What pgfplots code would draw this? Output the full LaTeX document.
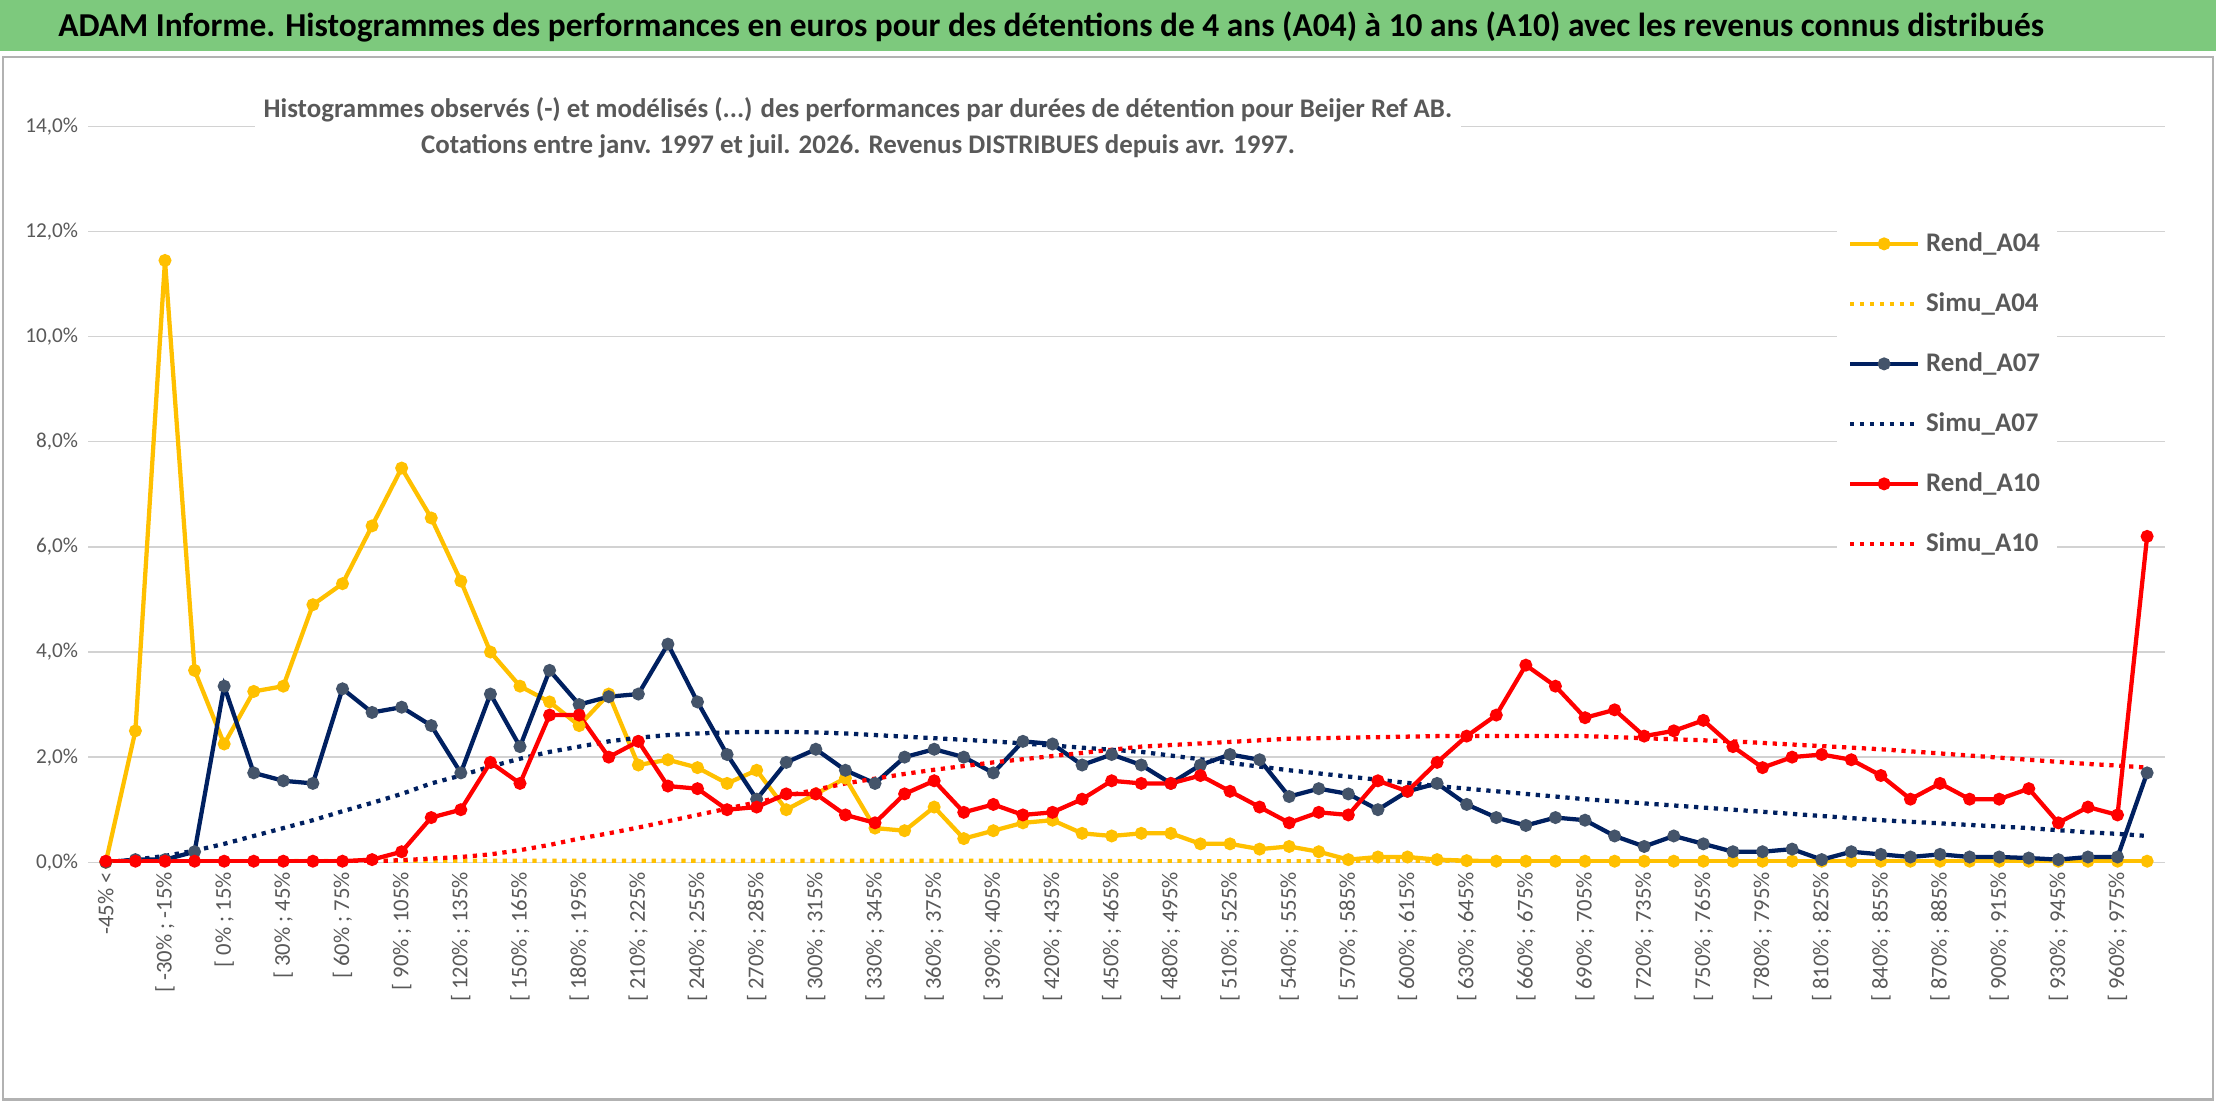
\documentclass[border=0pt]{standalone}
\usepackage{pgfplots}
\pgfplotsset{compat=1.18}
\usepackage{fontspec}
\setmainfont{Carlito}
\definecolor{ya}{HTML}{FFC000}
\definecolor{nv}{HTML}{002060}
\definecolor{nvm}{HTML}{44546A}
\definecolor{rd}{HTML}{FF0000}
\definecolor{gbar}{HTML}{7DC97D}
\definecolor{txt}{HTML}{595959}
\begin{document}
\begin{tikzpicture}
\fill[white] (0,0) rectangle (780bp,388bp);
\fill[gbar] (0,370bp) rectangle (780bp,388bp);
\draw[gray!60,line width=0.8bp] (1bp,1bp) rectangle (779bp,368bp);
\node[font=\bfseries\fontsize{11.8}{13}\selectfont] at (370bp,378.5bp) {ADAM Informe. Histogrammes des performances en euros pour des détentions de 4 ans (A04) à 10 ans (A10) avec les revenus connus distribués};
\begin{axis}[at={(31bp,84.5bp)},anchor=south west,scale only axis,
 width=731bp,height=259bp,xmin=-0.6,xmax=69.6,ymin=0,ymax=14,
 axis line style={draw=none},tick style={draw=none},
 ytick={0,2,...,14},ymajorgrids,grid style={gray!35,line width=0.5bp},
 /pgf/number format/assume math mode=true,
 yticklabel={\pgfmathprintnumber[fixed,fixed zerofill,precision=1,use comma]{\tick}\%},
 yticklabel style={font=\fontsize{7.5}{8}\selectfont,text=txt},
 xtick={0,2,...,68},
 xticklabels={{-45\% <},{[ -30\% ; -15\%},{[ 0\% ; 15\%},{[ 30\% ; 45\%},{[ 60\% ; 75\%},{[ 90\% ; 105\%},{[ 120\% ; 135\%},{[ 150\% ; 165\%},{[ 180\% ; 195\%},{[ 210\% ; 225\%},{[ 240\% ; 255\%},{[ 270\% ; 285\%},{[ 300\% ; 315\%},{[ 330\% ; 345\%},{[ 360\% ; 375\%},{[ 390\% ; 405\%},{[ 420\% ; 435\%},{[ 450\% ; 465\%},{[ 480\% ; 495\%},{[ 510\% ; 525\%},{[ 540\% ; 555\%},{[ 570\% ; 585\%},{[ 600\% ; 615\%},{[ 630\% ; 645\%},{[ 660\% ; 675\%},{[ 690\% ; 705\%},{[ 720\% ; 735\%},{[ 750\% ; 765\%},{[ 780\% ; 795\%},{[ 810\% ; 825\%},{[ 840\% ; 855\%},{[ 870\% ; 885\%},{[ 900\% ; 915\%},{[ 930\% ; 945\%},{[ 960\% ; 975\%}},
 xticklabel style={rotate=90,anchor=east,font=\fontsize{8}{8}\selectfont,text=txt},
 legend style={at={(0.895,0.88)},anchor=north,draw=none,fill=white,font=\fontsize{9.5}{10}\selectfont\bfseries,text=txt,row sep=9bp,inner sep=4bp},
 legend cell align=left,
 legend image code/.code={\draw[#1,mark repeat=2,mark phase=2] plot coordinates {(0bp,0bp) (12bp,0bp) (24bp,0bp)};},
]
\addplot[ya,line width=1.5bp,mark=*,mark size=1.5bp,mark options={fill=ya,draw=ya,solid}] coordinates {(0,0.0)(1,2.5)(2,11.45)(3,3.65)(4,2.25)(5,3.25)(6,3.35)(7,4.9)(8,5.3)(9,6.4)(10,7.5)(11,6.55)(12,5.35)(13,4.0)(14,3.35)(15,3.05)(16,2.6)(17,3.2)(18,1.85)(19,1.95)(20,1.8)(21,1.5)(22,1.75)(23,1.0)(24,1.3)(25,1.6)(26,0.65)(27,0.6)(28,1.05)(29,0.45)(30,0.6)(31,0.75)(32,0.8)(33,0.55)(34,0.5)(35,0.55)(36,0.55)(37,0.35)(38,0.35)(39,0.25)(40,0.3)(41,0.2)(42,0.05)(43,0.1)(44,0.1)(45,0.05)(46,0.03)(47,0.02)(48,0.02)(49,0.02)(50,0.02)(51,0.02)(52,0.02)(53,0.02)(54,0.02)(55,0.02)(56,0.02)(57,0.02)(58,0.02)(59,0.02)(60,0.02)(61,0.02)(62,0.02)(63,0.02)(64,0.02)(65,0.02)(66,0.02)(67,0.02)(68,0.02)(69,0.02)};
\addlegendentry{Rend\_A04}
\addplot[ya,line width=1.5bp,dotted] coordinates {(0,0)(5,0.02)(10,0.03)(15,0.03)(20,0.03)(25,0.03)(30,0.03)(35,0.02)(40,0.02)(45,0.02)(50,0.02)(55,0.02)(60,0.02)(65,0.02)(69,0.02)};
\addlegendentry{Simu\_A04}
\addplot[nv,line width=1.5bp,mark=*,mark size=1.5bp,mark options={fill=nvm,draw=nvm,solid}] coordinates {(0,0)(1,0.05)(2,0.05)(3,0.2)(4,3.35)(5,1.7)(6,1.55)(7,1.5)(8,3.3)(9,2.85)(10,2.95)(11,2.6)(12,1.7)(13,3.2)(14,2.2)(15,3.65)(16,3.0)(17,3.15)(18,3.2)(19,4.15)(20,3.05)(21,2.05)(22,1.2)(23,1.9)(24,2.15)(25,1.75)(26,1.5)(27,2.0)(28,2.15)(29,2.0)(30,1.7)(31,2.3)(32,2.25)(33,1.85)(34,2.05)(35,1.85)(36,1.5)(37,1.85)(38,2.05)(39,1.95)(40,1.25)(41,1.4)(42,1.3)(43,1.0)(44,1.35)(45,1.5)(46,1.1)(47,0.85)(48,0.7)(49,0.85)(50,0.8)(51,0.5)(52,0.3)(53,0.5)(54,0.35)(55,0.2)(56,0.2)(57,0.25)(58,0.05)(59,0.2)(60,0.15)(61,0.1)(62,0.15)(63,0.1)(64,0.1)(65,0.08)(66,0.05)(67,0.1)(68,0.1)(69,1.7)};
\addlegendentry{Rend\_A07}
\addplot[nv,line width=1.5bp,dotted] coordinates {(0,0.0)(1,0.05)(2,0.12)(3,0.22)(4,0.35)(5,0.5)(6,0.65)(7,0.8)(8,0.97)(9,1.13)(10,1.3)(11,1.5)(12,1.65)(13,1.82)(14,1.97)(15,2.1)(16,2.2)(17,2.3)(18,2.37)(19,2.42)(20,2.45)(21,2.47)(22,2.48)(23,2.48)(24,2.47)(25,2.45)(26,2.42)(27,2.39)(28,2.36)(29,2.33)(30,2.3)(31,2.26)(32,2.22)(33,2.18)(34,2.14)(35,2.1)(36,2.03)(37,1.96)(38,1.89)(39,1.82)(40,1.75)(41,1.69)(42,1.63)(43,1.57)(44,1.51)(45,1.45)(46,1.4)(47,1.35)(48,1.3)(49,1.25)(50,1.2)(51,1.16)(52,1.12)(53,1.08)(54,1.04)(55,1.0)(56,0.96)(57,0.92)(58,0.88)(59,0.84)(60,0.8)(61,0.77)(62,0.74)(63,0.71)(64,0.68)(65,0.65)(66,0.61)(67,0.57)(68,0.54)(69,0.5)};
\addlegendentry{Simu\_A07}
\addplot[rd,line width=1.5bp,mark=*,mark size=1.5bp,mark options={fill=rd,draw=rd,solid}] coordinates {(0,0.02)(1,0.02)(2,0.02)(3,0.02)(4,0.02)(5,0.02)(6,0.02)(7,0.02)(8,0.02)(9,0.05)(10,0.2)(11,0.85)(12,1.0)(13,1.9)(14,1.5)(15,2.8)(16,2.8)(17,2.0)(18,2.3)(19,1.45)(20,1.4)(21,1.0)(22,1.05)(23,1.3)(24,1.3)(25,0.9)(26,0.75)(27,1.3)(28,1.55)(29,0.95)(30,1.1)(31,0.9)(32,0.95)(33,1.2)(34,1.55)(35,1.5)(36,1.5)(37,1.65)(38,1.35)(39,1.05)(40,0.75)(41,0.95)(42,0.9)(43,1.55)(44,1.35)(45,1.9)(46,2.4)(47,2.8)(48,3.75)(49,3.35)(50,2.75)(51,2.9)(52,2.4)(53,2.5)(54,2.7)(55,2.2)(56,1.8)(57,2.0)(58,2.05)(59,1.95)(60,1.65)(61,1.2)(62,1.5)(63,1.2)(64,1.2)(65,1.4)(66,0.75)(67,1.05)(68,0.9)(69,6.2)};
\addlegendentry{Rend\_A10}
\addplot[rd,line width=1.5bp,dotted] coordinates {(0,0)(7,0)(8,0.01)(9,0.02)(10,0.04)(11,0.07)(12,0.1)(13,0.15)(14,0.23)(15,0.33)(16,0.45)(17,0.55)(18,0.66)(19,0.78)(20,0.9)(21,1.02)(22,1.14)(23,1.26)(24,1.38)(25,1.5)(26,1.59)(27,1.68)(28,1.76)(29,1.83)(30,1.9)(31,1.96)(32,2.02)(33,2.08)(34,2.14)(35,2.2)(36,2.23)(37,2.26)(38,2.29)(39,2.32)(40,2.35)(41,2.36)(42,2.37)(43,2.38)(44,2.39)(45,2.4)(50,2.4)(51,2.38)(52,2.36)(53,2.34)(54,2.32)(55,2.3)(56,2.27)(57,2.24)(58,2.21)(59,2.18)(60,2.15)(61,2.11)(62,2.07)(63,2.03)(64,1.99)(65,1.95)(66,1.91)(67,1.87)(68,1.84)(69,1.8)};
\addlegendentry{Simu\_A10}
\end{axis}
\node[fill=white,inner sep=3bp,align=center,text=txt,font=\bfseries\fontsize{9.5}{12.5}\selectfont] at (302bp,343bp) {Histogrammes observés (-) et modélisés (...) des performances par durées de détention pour Beijer Ref AB.\\Cotations entre janv. 1997 et juil. 2026. Revenus DISTRIBUES depuis avr. 1997.};
\end{tikzpicture}
\end{document}
